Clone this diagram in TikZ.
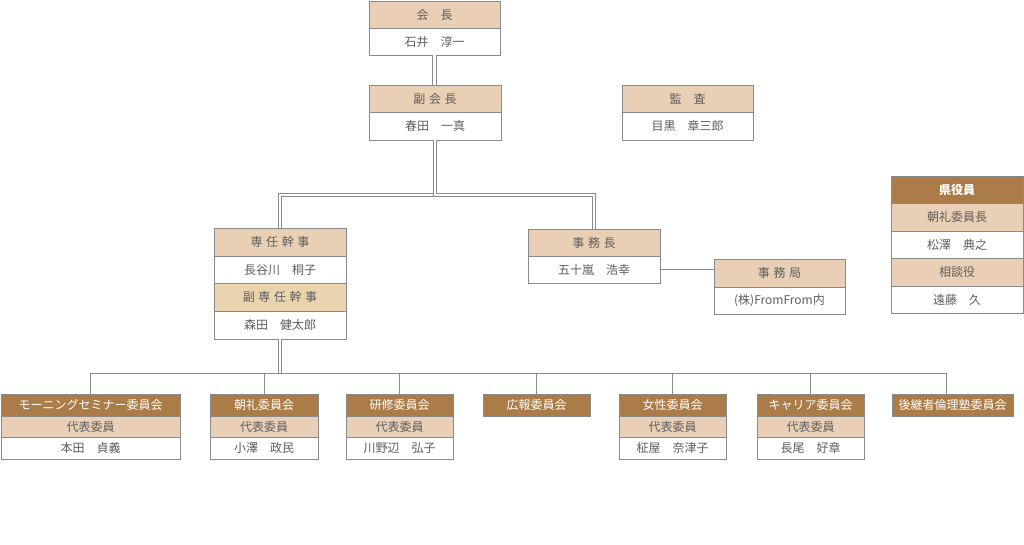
\documentclass[tikz,border=0pt]{standalone}
\usepackage{fontspec}
\setmainfont{Noto Sans CJK JP}
\usetikzlibrary{shadows}
\definecolor{peach}{HTML}{E9CFB5}
\definecolor{peachy}{HTML}{E9D4AE}
\definecolor{brownh}{HTML}{AC7C48}
\definecolor{bord}{HTML}{8A8A8A}
\definecolor{txt}{HTML}{5E5E5E}
\definecolor{lin}{HTML}{8A8A8A}
\definecolor{shad}{HTML}{C8C8C8}
\newcommand\gj{\hspace{0.3em}}
\tikzset{
  cell/.style={draw=bord, line width=0.8pt, anchor=north west, inner sep=0pt, outer sep=0pt,
    text=txt, font=\fontsize{12pt}{14pt}\selectfont,
    general shadow={fill=shad, shadow xshift=1.3pt, shadow yshift=-1.3pt}},
  hdr/.style={cell, fill=peach},
  hdrb/.style={cell, fill=peachy},
  dark/.style={cell, fill=brownh, text=white},
  darkb/.style={dark, font=\fontsize{12pt}{14pt}\selectfont\bfseries},
  body/.style={cell, fill=white},
  conn/.style={draw=lin, line width=0.9pt},
  dbl/.style={draw=lin, line width=0.9pt, double=white, double distance=2.6pt},
}
\begin{document}
\begin{tikzpicture}[x=1pt,y=-1pt]
\useasboundingbox (0,0) rectangle (1024,544);
% top
\node[hdr, minimum width=131pt, minimum height=27pt] (kaichoH) at (369,1) {会　長};
\node[body, minimum width=131pt, minimum height=27pt] (kaichoB) at (369,28) {石井　淳一};
\node[hdr, minimum width=132pt, minimum height=27pt] (fukuH) at (369,85) {副\gj 会\gj 長};
\node[body, minimum width=132pt, minimum height=28pt] (fukuB) at (369,112) {春田　一真};
\node[hdr, minimum width=131pt, minimum height=27pt] (kansaH) at (622,85) {監　査};
\node[body, minimum width=131pt, minimum height=28pt] (kansaB) at (622,112) {目黒　章三郎};
% sennin
\node[hdr, minimum width=132pt, minimum height=28pt] (sH) at (214,228) {専\gj 任\gj 幹\gj 事};
\node[body, minimum width=132pt, minimum height=27pt] (sB) at (214,256) {長谷川　桐子};
\node[hdrb, minimum width=132pt, minimum height=28pt] (ssH) at (214,283) {副\gj 専\gj 任\gj 幹\gj 事};
\node[body, minimum width=132pt, minimum height=28pt] (ssB) at (214,311) {森田　健太郎};
% jimu
\node[hdr, minimum width=132pt, minimum height=27pt] (jH) at (528,229) {事\gj 務\gj 長};
\node[body, minimum width=132pt, minimum height=27pt] (jB) at (528,256) {五十嵐　浩幸};
\node[hdr, minimum width=131pt, minimum height=28pt] (kH) at (714,259) {事\gj 務\gj 局};
\node[body, minimum width=131pt, minimum height=27pt] (kB) at (714,287) {(株)FromFrom内};
% ken
\node[darkb, minimum width=132pt, minimum height=27pt] (kenH) at (891,176) {県役員};
\node[hdr, minimum width=132pt, minimum height=28pt] (kenA) at (891,203) {朝礼委員長};
\node[body, minimum width=132pt, minimum height=27pt] (kenAB) at (891,231) {松澤　典之};
\node[hdr, minimum width=132pt, minimum height=28pt] (kenS) at (891,258) {相談役};
\node[body, minimum width=132pt, minimum height=27pt] (kenSB) at (891,286) {遠藤　久};
% committees
\node[dark, minimum width=179pt, minimum height=22pt] (c1H) at (1,394) {モーニングセミナー委員会};
\node[hdr, minimum width=179pt, minimum height=21pt] (c1R) at (1,416) {代表委員};
\node[body, minimum width=179pt, minimum height=22pt] (c1B) at (1,437) {本田　貞義};
\node[dark, minimum width=108pt, minimum height=22pt] (c2H) at (210,394) {朝礼委員会};
\node[hdr, minimum width=108pt, minimum height=21pt] (c2R) at (210,416) {代表委員};
\node[body, minimum width=108pt, minimum height=22pt] (c2B) at (210,437) {小澤　政民};
\node[dark, minimum width=107pt, minimum height=22pt] (c3H) at (346,394) {研修委員会};
\node[hdr, minimum width=107pt, minimum height=21pt] (c3R) at (346,416) {代表委員};
\node[body, minimum width=107pt, minimum height=22pt] (c3B) at (346,437) {川野辺　弘子};
\node[dark, minimum width=107pt, minimum height=22pt] (c4H) at (483,394) {広報委員会};
\node[dark, minimum width=107pt, minimum height=22pt] (c5H) at (619,394) {女性委員会};
\node[hdr, minimum width=107pt, minimum height=21pt] (c5R) at (619,416) {代表委員};
\node[body, minimum width=107pt, minimum height=22pt] (c5B) at (619,437) {柾屋　奈津子};
\node[dark, minimum width=107pt, minimum height=22pt] (c6H) at (757,394) {キャリア委員会};
\node[hdr, minimum width=107pt, minimum height=21pt] (c6R) at (757,416) {代表委員};
\node[body, minimum width=107pt, minimum height=22pt] (c6B) at (757,437) {長尾　好章};
\node[dark, minimum width=121pt, minimum height=22pt] (c7H) at (892,394) {後継者倫理塾委員会};
% connectors
\coordinate (jn) at (436,195);
\coordinate (bus) at (0,373);
\coordinate (c7in) at (946,394);
\draw[dbl] (kaichoB.south) -- (kaichoB.south |- fukuH.north);
\draw[dbl] (fukuB.south) -- (fukuB.south |- jn) -| (sH.north);
\draw[dbl] (fukuB.south) -- (fukuB.south |- jn) -| (jH.north);
\draw[conn] (jB.east) -- (jB.east -| kH.west);
\draw[dbl] (ssB.south) -- (ssB.south |- bus);
\draw[conn] (c1H.north |- bus) -- (c7in |- bus);
\foreach \n in {c1H,c2H,c3H,c4H,c5H,c6H} \draw[conn] (\n.north |- bus) -- (\n.north);
\draw[conn] (c7in |- bus) -- (c7in);
\end{tikzpicture}
\end{document}
